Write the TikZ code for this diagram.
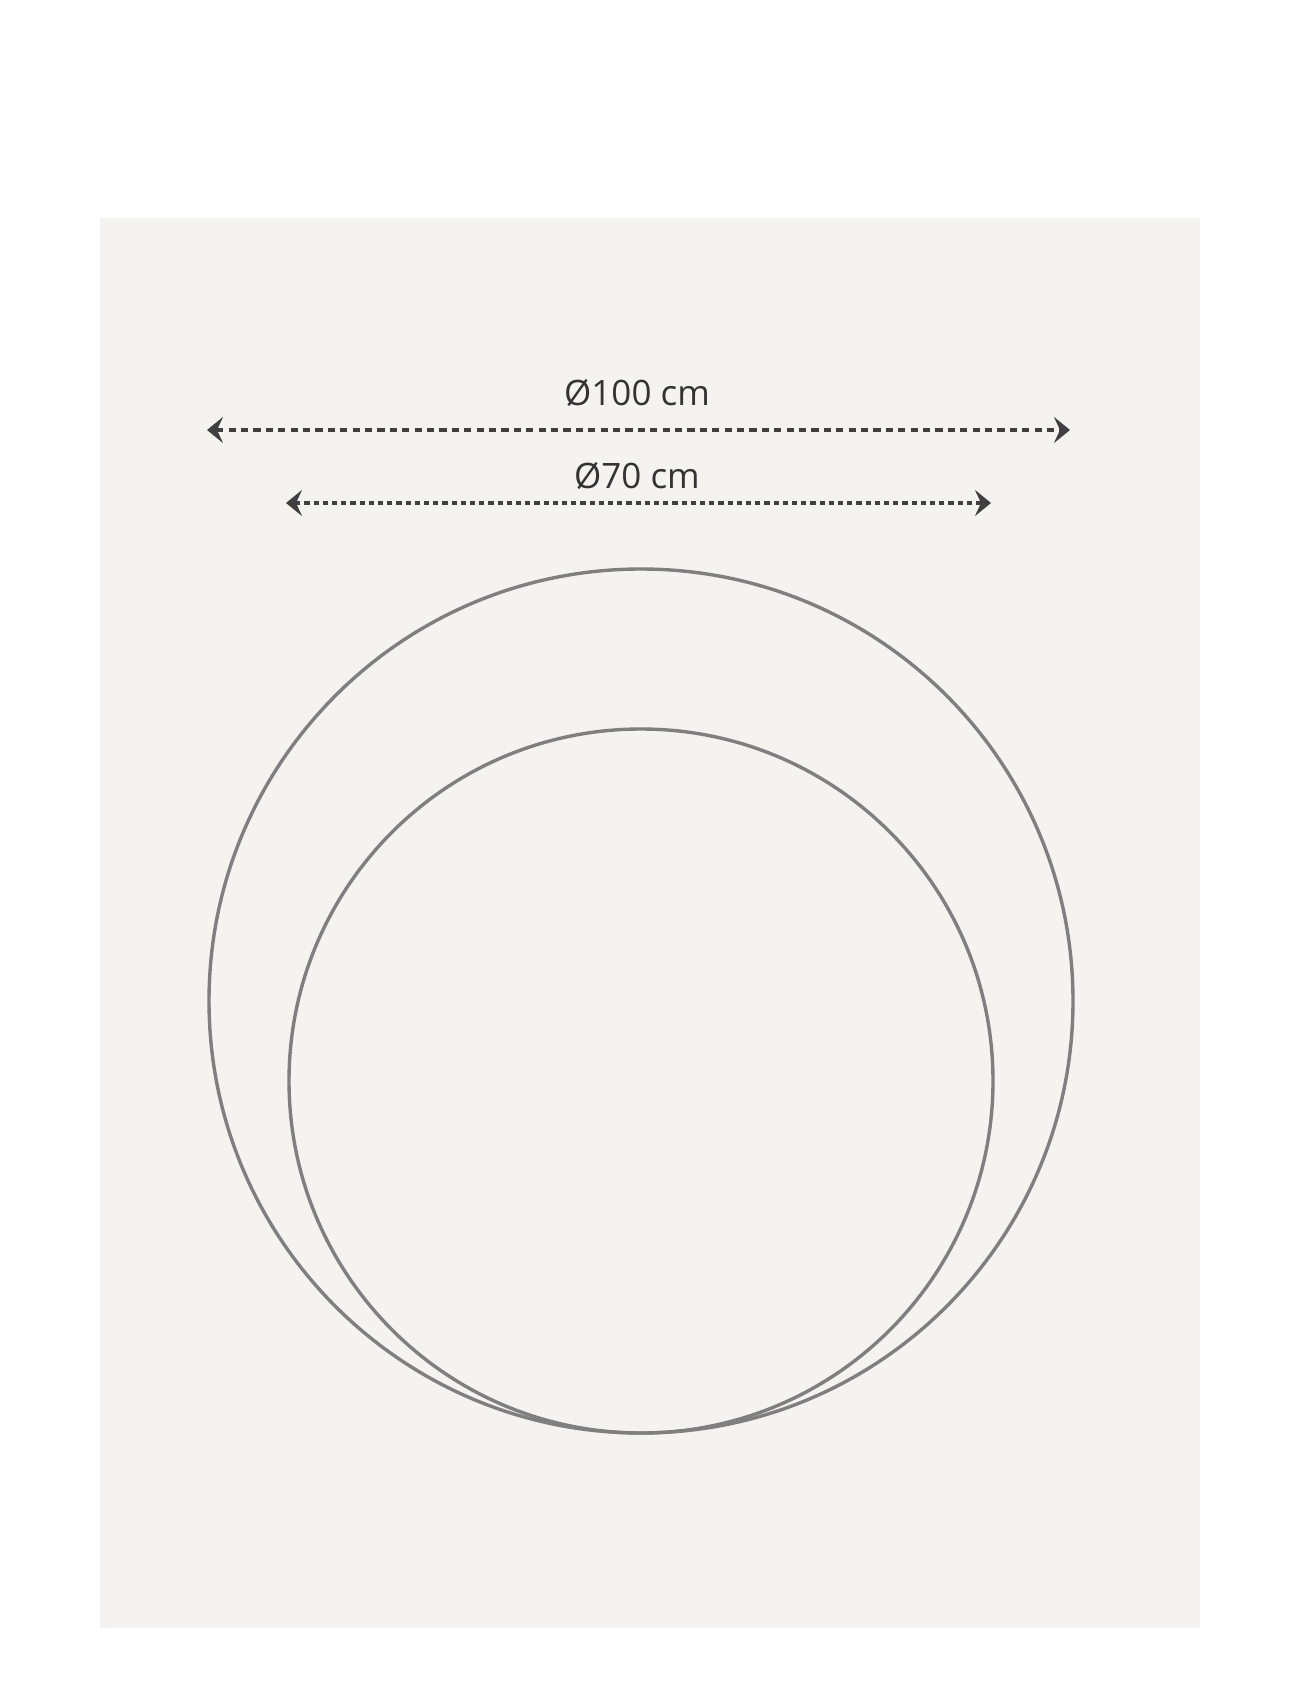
\documentclass[tikz,border=0pt]{standalone}
\usepackage{fontspec}
\setmainfont{Open Sans}
\usetikzlibrary{arrows.meta}
\usetikzlibrary{positioning}

\definecolor{panel}{HTML}{F4F3F0}
\definecolor{rim}{HTML}{7F7F7F}
\definecolor{dim}{HTML}{3F3F3F}
\definecolor{txt}{HTML}{333333}

\begin{document}
\begin{tikzpicture}[x=0.5pt,y=-0.5pt,
	dimline/.style={draw=dim,line width=1.8pt,dash pattern=on 3.6pt off 2.6pt,
		{Stealth[length=8pt,width=13pt,inset=3pt]}-{Stealth[length=8pt,width=13pt,inset=3pt]}},
	dimline2/.style={dimline,dash pattern=on 2.6pt off 2pt},
	label/.style={anchor=base,text=txt,font=\fontsize{17.5}{20}\selectfont},
	ring/.style={draw=rim,line width=1.7pt}]
	\useasboundingbox (0,0) rectangle (1300,1700);
	\fill[panel] (100,218) rectangle (1200,1628);
	% dimension lines
	\coordinate (a1) at (207,430);
	\coordinate (b1) at (1070,430);
	\coordinate (a2) at (286,503);
	\coordinate (b2) at (991,503);
	\draw[dimline] (a1) -- (b1);
	\draw[dimline2] (a2) -- (b2);
	\node [label] (d100) at (637,406) {Ø100 cm};
	\node [label] (d70) at (637,488) {Ø70 cm};
	% circles
	\node [ring,circle,minimum size=432pt,inner sep=0pt] (outer) at (641,1001) {};
	\node [ring,circle,minimum size=352pt,inner sep=0pt] (inner) at (641,1081) {};
\end{tikzpicture}
\end{document}
